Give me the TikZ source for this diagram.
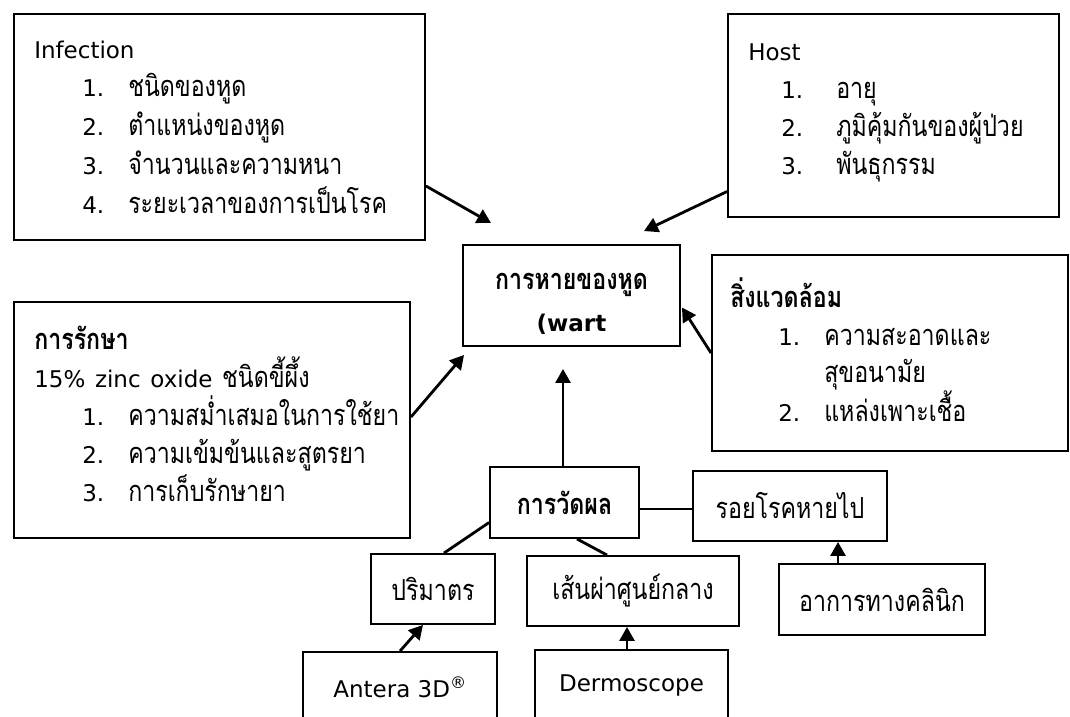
\documentclass[tikz,border=0pt]{standalone}
\usepackage{fontspec}
\setmainfont[Script=Thai, FakeStretch=0.8]{Loma}
\newfontfamily\latfam{DejaVu Sans}
\newcommand\lat{\latfam\fontsize{23}{38}\selectfont}
\usetikzlibrary{arrows.meta,calc}
\newcommand\itm[2]{\hspace*{48pt}\makebox[46pt][l]{\lat #1}#2}
\newcommand\itmh[2]{\hspace*{33pt}\makebox[55pt][l]{\lat #1}#2}
\tikzset{
  txt/.style={font=\fontsize{29}{38}\selectfont},
  frame/.style={draw, line width=1.9pt, inner sep=0pt},
  listtext/.style={txt, inner sep=0pt, align=left, anchor=west},
  cbox/.style={txt, frame, align=center},
  arr/.style={line width=2.8pt, -{Triangle[length=14pt,width=15pt]}},
  link/.style={line width=2.8pt}
}
\begin{document}
\begin{tikzpicture}[x=1pt,y=-1pt]
\useasboundingbox (0,0) rectangle (1070,716);
\clip (0,0) rectangle (1070,716);
\fill[white] (0,0) rectangle (1070,716);

% boxes
\node[frame, minimum width=411pt, minimum height=226pt] (inf) at (219.5,127) {};
\node[frame, minimum width=331pt, minimum height=203pt] (host) at (893.5,115.5) {};
\node[frame, minimum width=217pt, minimum height=101pt] (wart) at (571.5,295.5) {};
\node[frame, minimum width=356pt, minimum height=196pt] (env) at (890,353) {};
\node[frame, minimum width=396pt, minimum height=236pt] (treat) at (212,420) {};

% box texts
\node[listtext, text width=371pt, font=\fontsize{29}{38.7}\selectfont] (inf-t) at ($(inf.west)+(21,0)$)
 {{\lat Infection}\\
  \itm{1.}{ชนิดของหูด}\\
  \itm{2.}{ตำแหน่งของหูด}\\
  \itm{3.}{จำนวนและความหนา}\\
  \itm{4.}{ระยะเวลาของการเป็นโรค}};

\node[listtext, text width=291pt] (host-t) at ($(host.west)+(21,-3)$)
 {{\lat Host}\\
  \itmh{1.}{อายุ}\\
  \itmh{2.}{ภูมิคุ้มกันของผู้ป่วย}\\
  \itmh{3.}{พันธุกรรม}};

\node[txt, inner sep=0pt, align=center, font=\fontsize{29}{42}\selectfont\bfseries] (wart-t) at ($(wart.center)+(0,8)$)
 {การหายของหูด\\{\lat\bfseries (wart}};

\node[listtext, text width=318pt, font=\fontsize{29}{37.3}\selectfont] (env-t) at ($(env.west)+(19,-3)$)
 {\textbf{สิ่งแวดล้อม}\\
  \itm{1.}{ความสะอาดและ}\\
  \hspace*{94pt}สุขอนามัย\\
  \itm{2.}{แหล่งเพาะเชื้อ}};

\node[listtext, text width=356pt] (treat-t) at ($(treat.west)+(21,-6)$)
 {\textbf{การรักษา}\\
  {\lat 15\% zinc oxide} ชนิดขี้ผึ้ง\\
  \itm{1.}{ความสม่ำเสมอในการใช้ยา}\\
  \itm{2.}{ความเข้มข้นและสูตรยา}\\
  \itm{3.}{การเก็บรักษายา}};

% small boxes
\node[cbox, minimum width=149pt, minimum height=71pt, font=\fontsize{29}{38}\selectfont\bfseries] (meas) at (564.5,502.5) {การวัดผล};
\node[cbox, minimum width=194pt, minimum height=70pt] (lesion) at (790,506) {รอยโรคหายไป};
\node[cbox, minimum width=124pt, minimum height=70pt] (vol) at (433,589) {ปริมาตร};
\node[cbox, minimum width=212pt, minimum height=70pt] (diam) at (633,591) {เส้นผ่าศูนย์กลาง};
\node[cbox, minimum width=194pt, minimum height=70pt] (antera) at (400,687) {\lat Antera 3D\textsuperscript{®}};
\node[cbox, minimum width=193pt, minimum height=70pt] (derm) at (631.5,685) {\lat Dermoscope};
\node[cbox, minimum width=206pt, minimum height=71pt] (clin) at (882,599.5) {อาการทางคลินิก};

% connectors
\draw[arr] ($(inf.east)+(0,59)$) -- ($(wart.north west)+(29,-21)$);
\draw[arr] ($(host.west)+(0,76)$) -- ($(wart.north east)+(-37,-13)$);
\draw[arr] (env.west) -- ($(wart.east)+(1,12)$);
\draw[arr] ($(treat.east)+(0,-3)$) -- ($(wart.south west)+(2,8)$);
\draw[arr] ($(meas.north)+(-1.5,0)$) -- ($(wart.south)+(-8.5,22)$);
\draw[link] ($(meas.west)+(0,20)$) -- ($(vol.north)+(11,0)$);
\draw[link] ($(meas.south)+(12.5,0)$) -- ($(diam.north)+(-26,0)$);
\draw[link] ($(meas.east)+(0,6.5)$) -- ($(lesion.west)+(0,3)$);
\draw[arr] (antera.north) -- ($(vol.south)+(-10,0)$);
\draw[arr] ($(derm.north)+(-4.5,0)$) -- ($(diam.south)+(-6,0)$);
\draw[arr] ($(clin.north)+(-44,0)$) -- ($(lesion.south)+(48,0)$);
\end{tikzpicture}
\end{document}
